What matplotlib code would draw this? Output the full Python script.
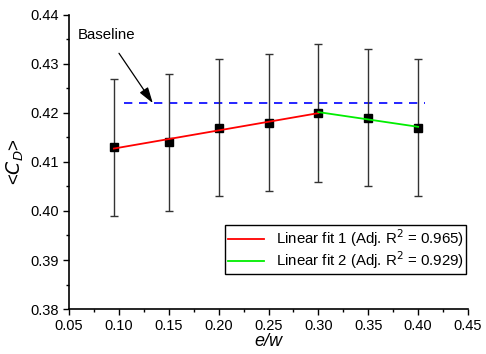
import numpy as np
import matplotlib
matplotlib.use('Agg')
import matplotlib.pyplot as plt
from matplotlib.ticker import MultipleLocator

plt.rcParams['font.family'] = ['Liberation Sans', 'DejaVu Sans']

ew = [0.095, 0.15, 0.20, 0.25, 0.30, 0.35, 0.40]
cd_mean = [0.413, 0.414, 0.417, 0.418, 0.420, 0.419, 0.417]
cd_err = [0.014, 0.014, 0.014, 0.014, 0.014, 0.014, 0.014]
baseline = 0.422
baseline_span = [0.105, 0.407]
fit1_label = 'Linear fit 1 (Adj. R$^2$ = 0.965)'
fit2_label = 'Linear fit 2 (Adj. R$^2$ = 0.929)'

fig = plt.figure(figsize=(4.86, 3.54), dpi=100)
ax = fig.add_axes([0.142, 0.127, 0.821, 0.831])

ax.errorbar(ew, cd_mean, yerr=cd_err, fmt='s', color='black', ms=5.5,
            ecolor='#333333', elinewidth=1.0, capsize=3, capthick=1.0, zorder=3)

ax.plot(baseline_span, [baseline, baseline], color='blue', ls=(0, (5, 4)), lw=1.2, zorder=2)

# two separate linear fits: rising part up to 0.30, falling part after
x1, y1 = np.array(ew[:5]), np.array(cd_mean[:5])
x2, y2 = np.array(ew[4:]), np.array(cd_mean[4:])
p1 = np.polyfit(x1, y1, 1)
p2 = np.polyfit(x2, y2, 1)
ax.plot(x1[[0, -1]], np.polyval(p1, x1[[0, -1]]), color='red', lw=1.3, label=fit1_label, zorder=4)
ax.plot(x2[[0, -1]], np.polyval(p2, x2[[0, -1]]), color='#00ee00', lw=1.3, label=fit2_label, zorder=4)

ax.annotate('Baseline', xy=(0.134, baseline), xytext=(0.088, 0.4358),
            ha='center', va='center', fontsize=10.8,
            arrowprops=dict(arrowstyle='-|>,head_length=0.8,head_width=0.25', color='black',
                            lw=0.9, mutation_scale=12, shrinkA=7, shrinkB=0))

ax.set_xlim(0.05, 0.45)
ax.set_ylim(0.38, 0.44)
ax.xaxis.set_major_locator(MultipleLocator(0.05))
ax.xaxis.set_minor_locator(MultipleLocator(0.025))
ax.yaxis.set_major_locator(MultipleLocator(0.01))
ax.yaxis.set_minor_locator(MultipleLocator(0.005))
ax.xaxis.set_major_formatter(plt.FormatStrFormatter('%.2f'))
ax.yaxis.set_major_formatter(plt.FormatStrFormatter('%.2f'))
ax.tick_params(which='major', direction='out', length=4, width=1, labelsize=10.5)
ax.tick_params(which='minor', direction='out', length=2.5, width=1)

for side in ('top', 'right'):
    ax.spines[side].set_visible(False)
for side in ('left', 'bottom'):
    ax.spines[side].set_linewidth(1.2)

ax.set_xlabel('e/w', fontsize=13, style='italic', labelpad=0)
ax.set_ylabel(r'<$C_D$>', fontsize=13.5, labelpad=3)

leg = ax.legend(loc='lower right', bbox_to_anchor=(0.995, 0.12), fontsize=10.8,
                frameon=True, fancybox=False, edgecolor='black', framealpha=1,
                handlelength=2.4, borderpad=0.15, labelspacing=0.05, handletextpad=0.8,
                borderaxespad=0)
leg.get_frame().set_linewidth(1.0)

fig.savefig('out.png', dpi=100)
